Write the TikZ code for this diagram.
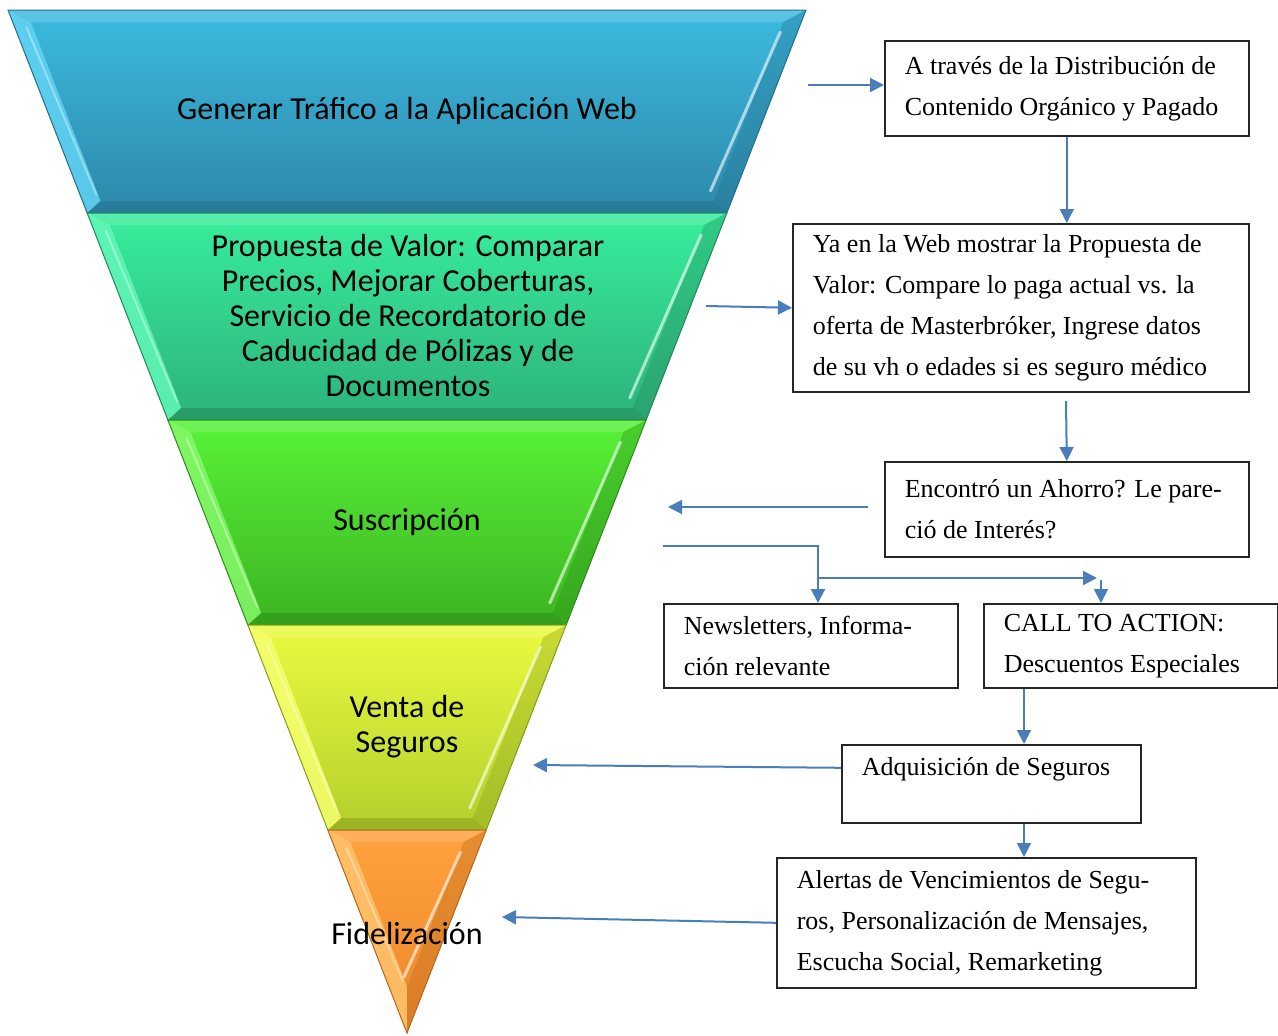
\documentclass[tikz,border=0pt]{standalone}
\usepackage{fontspec}
\setmainfont{Liberation Serif}
\newfontfamily\calfont{Carlito}
\usetikzlibrary{arrows.meta}
\definecolor{arrowblue}{HTML}{4A7EBB}
\definecolor{blueA}{HTML}{3CBBE0}\definecolor{blueB}{HTML}{2D88AA}\definecolor{blueL}{HTML}{62D3F3}\definecolor{blueD}{HTML}{25718E}
\definecolor{tealA}{HTML}{38EE9C}\definecolor{tealB}{HTML}{2DB27B}\definecolor{tealL}{HTML}{62F7B9}\definecolor{tealD}{HTML}{238A5C}
\definecolor{grnA}{HTML}{58F238}\definecolor{grnB}{HTML}{3CB421}\definecolor{grnL}{HTML}{86F86A}\definecolor{grnD}{HTML}{2D8E1A}
\definecolor{yelA}{HTML}{ECFA40}\definecolor{yelB}{HTML}{B3CF2C}\definecolor{yelL}{HTML}{F6FF6E}\definecolor{yelD}{HTML}{889E1F}
\definecolor{orA}{HTML}{FFA23C}\definecolor{orB}{HTML}{EC872B}\definecolor{orL}{HTML}{FFC46E}\definecolor{orD}{HTML}{B9681C}
\begin{document}
\begin{tikzpicture}[x=1pt,y=-1pt,
  arr/.style={draw=arrowblue,line width=2pt,-{Triangle[length=14pt,width=14pt]}},
  box/.style={draw=black!85,line width=1.6pt,inner xsep=20pt,inner ysep=0pt,align=flush left,anchor=north west,font={\fontsize{26}{41}\selectfont}},
  seglabel/.style={font={\calfont\fontsize{32}{35}\selectfont},align=center,text=black}]
\useasboundingbox (0,0) rectangle (1278,1036);
% funnel segments
\foreach \yt/\yb/\ytwo/\ca/\cb/\cl/\cd in {
 10/213/201/blueA/blueB/blueL/blueD,
 213/420/408/tealA/tealB/tealL/tealD,
 420/625/613/grnA/grnB/grnL/grnD,
 625/830/818/yelA/yelB/yelL/yelD,
 830/1033/987/orA/orB/orL/orD}{
 \pgfmathsetmacro\yone{\yt+12}
 \pgfmathsetmacro\xa{8+0.39003*(\yt-10)}
 \pgfmathsetmacro\xb{8+0.39003*(\yb-10)}
 \pgfmathsetmacro\xc{8+0.39003*(\yone-10)+18}
 \pgfmathsetmacro\xd{min(8+0.39003*(\ytwo-10)+18,407)}
 \pgfmathsetmacro\xA{814-\xa}
 \pgfmathsetmacro\xB{814-\xb}
 \pgfmathsetmacro\xC{814-\xc}
 \pgfmathsetmacro\xD{814-\xd}
 \fill[top color=\ca,bottom color=\cb] (\xa,\yt) -- (\xA,\yt) -- (\xB,\yb) -- (\xb,\yb) -- cycle;
 \fill[white,opacity=.15] (\xa,\yt) -- (\xA,\yt) -- (\xC,\yone) -- (\xc,\yone) -- cycle;
 \fill[\cl,opacity=.85] (\xa,\yt) -- (\xc,\yone) -- (\xd,\ytwo) -- (\xb,\yb) -- cycle;
 \fill[\cd,opacity=.35] (\xA,\yt) -- (\xC,\yone) -- (\xD,\ytwo) -- (\xB,\yb) -- cycle;
 \fill[\cd,opacity=.55] (\xb,\yb) -- (\xd,\ytwo) -- (\xD,\ytwo) -- (\xB,\yb) -- cycle;
 \draw[white,opacity=.6,line width=3pt,line cap=round] ({\xC-3},{\yone+10}) -- ({\xD-3},{\ytwo-10});
 \draw[white,opacity=.35,line width=2pt,line cap=round] ({\xc-4},{\yone+6}) -- ({\xd-4},{\ytwo-6});
 \draw[\cd,line width=1pt] (\xa,\yt) -- (\xA,\yt) -- (\xB,\yb) -- (\xb,\yb) -- cycle;
}
% funnel labels
\node[seglabel] (s1) at (407,111) {Generar Tráfico a la Aplicación Web};
\node[seglabel] (s2) at (408,316) {Propuesta de Valor: Comparar\\Precios, Mejorar Coberturas,\\Servicio de Recordatorio de\\Caducidad de Pólizas y de\\Documentos};
\node[seglabel] (s3) at (407,522) {Suscripción};
\node[seglabel] (s4) at (407,727) {Venta de\\Seguros};
\node[seglabel] (s5) at (407,933) {Fidelización};
% boxes
\node[box,text width=324pt,minimum height=95pt] (b1) at (884,40) {A través de la Distribución de\\Contenido Orgánico y Pagado};
\node[box,text width=416pt,minimum height=168pt] (b2) at (792,223) {Ya en la Web mostrar la Propuesta de\\Valor: Compare lo paga actual vs. la\\oferta de Masterbróker, Ingrese datos\\de su vh o edades si es seguro médico};
\node[box,text width=324pt,minimum height=95pt] (b3) at (884,461) {Encontró un Ahorro? Le pare-\\ció de Interés?};
\node[box,text width=254pt,minimum height=84pt] (b4) at (663,603) {Newsletters, Informa-\\ción relevante};
\node[box,text width=254pt,minimum height=84pt] (b5) at (983,603) {CALL TO ACTION:\\Descuentos Especiales};
\node[box,text width=259pt,minimum height=78pt,text depth=35pt] (b6) at (841,744) {Adquisición de Seguros};
\node[box,text width=379pt,minimum height=130pt] (b7) at (776,857) {Alertas de Vencimientos de Segu-\\ros, Personalización de Mensajes,\\Escucha Social, Remarketing};
% connectors
\coordinate (a1s) at (808,85);
\draw[arr] (a1s) -- (a1s -| b1.west);
\draw[arr] (b1.south) -- (b1.south |- b2.north);
\coordinate (a3s) at (706,306);
\draw[arr] (a3s) -- (b2.west);
\coordinate (a4s) at (1066,401);
\draw[arr] (a4s) -- (b3.north);
\coordinate (a5s) at (868,507);
\coordinate (a5e) at (668,507);
\draw[arr] (a5s -| b3.west) ++(-16,0) -- (a5e);
\coordinate (a6s) at (663,546);
\coordinate (j6) at (818,546);
\draw[arr] (a6s) -- (j6) -- (j6 |- b4.north);
\coordinate (j7) at (818,578);
\coordinate (a7e) at (1097,578);
\draw[arr] (j7) -- (a7e);
\coordinate (a8s) at (1101,580);
\draw[arr] (a8s) -- (a8s |- b5.north);
\coordinate (a9) at (1024,700);
\draw[arr] (a9 |- b5.south) -- (a9 |- b6.north);
\coordinate (a10e) at (533,765);
\draw[arr] ([yshift=16pt]b6.west) -- (a10e);
\draw[arr] (a9 |- b6.south) -- (a9 |- b7.north);
\coordinate (a12e) at (502,917);
\draw[arr] (b7.west) -- (a12e);
\end{tikzpicture}
\end{document}
